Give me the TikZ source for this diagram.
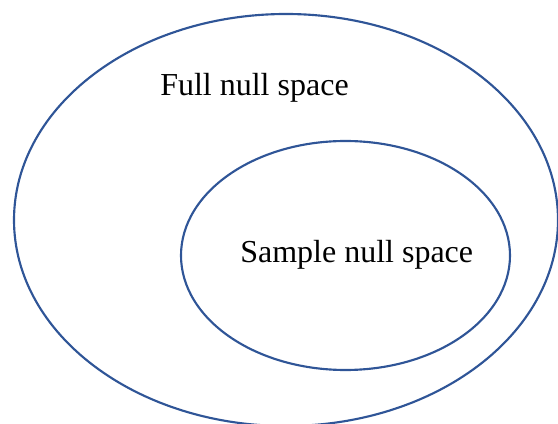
\documentclass[tikz,border=0pt]{standalone}
\usepackage{fontspec}
\setmainfont{Liberation Serif}
\definecolor{randblau}{HTML}{2F5597}
\begin{document}
\begin{tikzpicture}[x=0.75pt,y=-0.75pt]
				      % Rahmen festlegen
				      \useasboundingbox (0,0) rectangle (558,424);

				      % Ellipsen zeichnen
				      \draw[randblau, line width=1.6pt] (286,220) ellipse (272 and 206); % grosse Menge
				      \draw[randblau, line width=1.6pt] (345.5,255.5) ellipse (164.5 and 114.5); % kleine Menge

				      % Beschriftungen
				      \node[anchor=base west, inner sep=0pt, font=\fontsize{24}{28}\selectfont] (voll) at (160,96) {Full null space};
				      \node[anchor=base west, inner sep=0pt, font=\fontsize{24}{28}\selectfont] (stichprobe) at (240,263) {Sample null space};
			      \end{tikzpicture}
\end{document}
